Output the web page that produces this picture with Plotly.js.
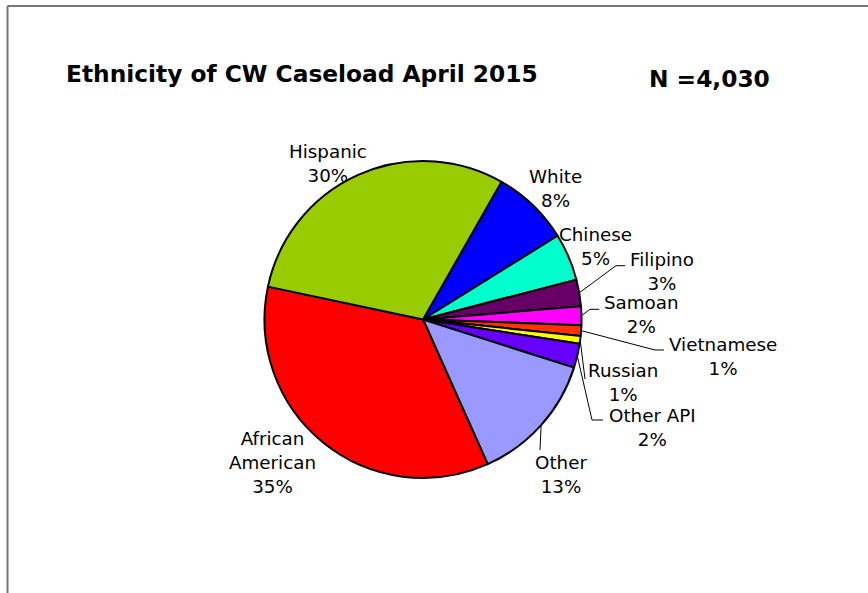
<!DOCTYPE html>
<html>
<head>
<meta charset="utf-8">
<script src="https://cdn.plot.ly/plotly-3.0.1.min.js"></script>
<style>html,body{margin:0;padding:0;background:#fff;}#chart{width:868px;height:593px;}</style>
</head>
<body>
<div id="chart"></div>
<script>
// Data (clockwise from the Hispanic/White boundary)
const categories = ["White", "Chinese", "Filipino", "Samoan", "Vietnamese", "Russian", "Other API", "Other", "African American", "Hispanic"];
const counts = [318, 194, 109, 77, 44, 32, 99, 540, 1411, 1206];
const sliceColors = ["#0000FF", "#00FFCC", "#660066", "#FF00FF", "#FF3300", "#FFFF00", "#6600FF", "#9999FF", "#FF0000", "#99CC00"];
const labelText = ["White", "Chinese", "Filipino", "Samoan", "Vietnamese", "Russian", "Other API", "Other", "African<br>American", "Hispanic"];
const titleText = "Ethnicity of CW Caseload April 2015";
const nText = "N =4,030";

const W = 868, H = 593;
const CX = 423, CY = 319.5, R = 158.5;
const ROT = 29.7;
const px = x => x / W;
const py = y => 1 - y / H;

// label block centres (pixels)
const labelPos = [[555,188.5],[595,246],[662,271],[641,314],[723,356],[623,382],[652,427],[560.5,474],[272,462.5],[328,163.5]];
// leader line tails (after leaving the slice edge); null = no leader line
const leaderTail = [null, null, [[616,265.7],[625,265.7]], [[590,309.3],[599.3,309.3]], [[655,350],[664,350]], [[585,379]], [[592,420],[603,420]], [[540,450]], null, null];

const total = counts.reduce((a,b)=>a+b,0);
const annotations = [];
const shapes = [];
let acc = 0;
counts.forEach((v,i)=>{
  const mid = (ROT + (acc + v/2)/total*360) * Math.PI/180;
  acc += v;
  const pct = Math.round(v/total*100);
  annotations.push({
    x: px(labelPos[i][0]), y: py(labelPos[i][1]), xref:'paper', yref:'paper',
    text: labelText[i] + '<br>' + pct + '%', showarrow:false,
    xanchor:'center', yanchor:'middle', align:'center',
    font:{family:'DejaVu Sans, Verdana, sans-serif', size:18.3, color:'#000'}
  });
  if (leaderTail[i]) {
    const sx = CX + R*Math.sin(mid), sy = CY - R*Math.cos(mid);
    let d = 'M ' + px(sx) + ' ' + py(sy);
    leaderTail[i].forEach(p => { d += ' L ' + px(p[0]) + ' ' + py(p[1]); });
    shapes.push({type:'path', xref:'paper', yref:'paper', path:d, line:{color:'#000', width:1}});
  }
});

annotations.push({x:px(64), y:py(73), xref:'paper', yref:'paper', text:'<b>'+titleText+'</b>', showarrow:false, xanchor:'left', yanchor:'middle', font:{family:'DejaVu Sans, Verdana, sans-serif', size:23.3, color:'#000'}});
annotations.push({x:px(647), y:py(78.5), xref:'paper', yref:'paper', text:'<b>'+nText+'</b>', showarrow:false, xanchor:'left', yanchor:'middle', font:{family:'DejaVu Sans, Verdana, sans-serif', size:23.3, color:'#000'}});

// frame lines
shapes.push({type:'line', xref:'paper', yref:'paper', x0:px(7.5), x1:1, y0:py(6), y1:py(6), line:{color:'#777', width:2}});
shapes.push({type:'line', xref:'paper', yref:'paper', x0:px(7.5), x1:px(7.5), y0:py(6), y1:0, line:{color:'#777', width:2}});

const trace = {
  type:'pie', labels:categories, values:counts, sort:false, direction:'clockwise', rotation:ROT,
  marker:{colors:sliceColors, line:{color:'#000', width:2}},
  textinfo:'none', hoverinfo:'label+percent',
  domain:{x:[px(CX-R), px(CX+R)], y:[py(CY+R), py(CY-R)]}
};

Plotly.newPlot('chart', [trace], {
  width:W, height:H, margin:{l:0,r:0,t:0,b:0}, showlegend:false,
  paper_bgcolor:'#fff', annotations:annotations, shapes:shapes
}, {displayModeBar:false, staticPlot:true});
</script>
</body>
</html>
